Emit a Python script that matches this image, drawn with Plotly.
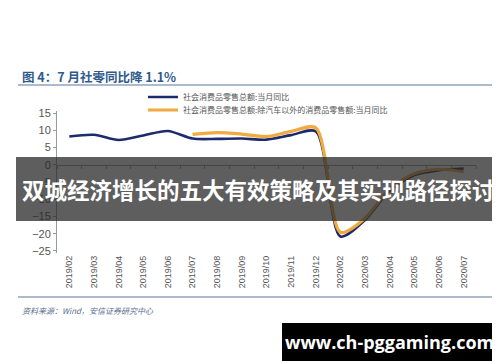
import plotly.graph_objects as go

months = ["2019/02", "2019/03", "2019/04", "2019/05", "2019/06", "2019/07", "2019/08",
          "2019/09", "2019/10", "2019/11", "2019/12", "2020/02", "2020/03", "2020/04",
          "2020/05", "2020/06", "2020/07"]
retail_total = [8.2, 8.7, 7.2, 8.5, 9.8, 7.6, 7.5, 7.6, 7.3, 8.6, 9.7,
                -20.8, -16.0, -7.5, -3.0, -1.6, -1.1]
retail_ex_auto = [None, None, None, None, None, 8.8, 9.3, 8.9, 8.2, 9.7, 10.7,
                  -19.6, -15.5, -7.0, -2.6, -1.3, -2.0]
name_total = "社会消费品零售总额:当月同比"
name_ex_auto = "社会消费品零售总额:除汽车以外的消费品零售额:当月同比"
y_ticks = [15, 10, 5, 0, -5, -10, -15, -20, -25]

title_text = "图 4：7 月社零同比降 1.1%"
source_text = "资料来源：Wind，安信证券研究中心"
banner_text = "双城经济增长的五大有效策略及其实现路径探讨"
watermark_text = "www.ch-pggaming.com"

W, H = 500, 362
ML, MR, MT, MB = 49, 32, 103, 117
y_range = [-25.6, 15.6]
zero_pos = (0 - y_range[0]) / (y_range[1] - y_range[0])


def pap_x(px):
    return (px - ML) / (W - ML - MR)


def pap_y(py):
    return (H - MB - py) / (H - MT - MB)


fig = go.Figure()
fig.add_trace(go.Scatter(x=months, y=retail_total, name=name_total, mode="lines", legend="legend",
                         line=dict(color="#1d2a6c", width=2.6, shape="spline", smoothing=0.8)))
fig.add_trace(go.Scatter(x=months, y=retail_ex_auto, name=name_ex_auto, mode="lines", legend="legend2",
                         line=dict(color="#f0aa40", width=3.2, shape="spline", smoothing=0.8)))
# invisible carrier for the axis drawn through zero
fig.add_trace(go.Scatter(x=months, y=retail_total, xaxis="x2", mode="lines",
                         line=dict(color="rgba(0,0,0,0)"), showlegend=False, hoverinfo="skip"))

grey = "#9a9a9a"
legend_common = dict(xanchor="left", yanchor="middle", bgcolor="rgba(0,0,0,0)",
                     font=dict(family="Noto Sans CJK SC", size=8, color="#555"),
                     itemwidth=30)
fig.update_layout(
    width=W, height=H,
    margin=dict(l=ML, r=MR, t=MT, b=MB, autoexpand=False),
    paper_bgcolor="white", plot_bgcolor="white",
    showlegend=True,
    legend=dict(x=pap_x(135), y=pap_y(89), **legend_common),
    legend2=dict(x=pap_x(135), y=pap_y(102), **legend_common),
    xaxis=dict(type="category", categoryorder="array", categoryarray=months,
               range=[-0.5, len(months) - 0.5],
               showline=False, showgrid=False, zeroline=False, ticks="",
               tickangle=-90, tickfont=dict(family="Liberation Sans", size=9, color="#555")),
    xaxis2=dict(type="category", categoryorder="array", categoryarray=months,
                range=[-0.5, len(months) - 0.5], overlaying="x", anchor="free",
                position=zero_pos, side="bottom",
                showline=True, linecolor=grey, linewidth=1, showgrid=False,
                ticks="outside", ticklen=3, tickcolor=grey, tickson="boundaries",
                showticklabels=False),
    yaxis=dict(range=y_range, tickvals=y_ticks, showgrid=False, zeroline=False,
               showline=True, linecolor=grey, linewidth=1,
               ticks="outside", ticklen=3, tickcolor=grey,
               tickfont=dict(family="Liberation Sans", size=11, color="#555")),
)

ann = [
    dict(x=pap_x(12), y=pap_y(68), xref="paper", yref="paper", text="<b>%s</b>" % title_text,
         showarrow=False, xanchor="left", yanchor="middle",
         font=dict(family="Noto Sans CJK SC", size=12.5, color="#2f5a8c")),
    dict(x=pap_x(12), y=pap_y(302), xref="paper", yref="paper", text="<i>%s</i>" % source_text,
         showarrow=False, xanchor="left", yanchor="middle",
         font=dict(family="Noto Sans CJK SC", size=8, color="#5a7090")),
    dict(x=pap_x(250), y=pap_y(181), xref="paper", yref="paper", text="<b>%s</b>" % banner_text,
         showarrow=False, xanchor="center", yanchor="middle",
         font=dict(family="Noto Sans CJK SC", size=22.5, color="white")),
    dict(x=pap_x(381), y=pap_y(334), xref="paper", yref="paper", text="<b>%s</b>" % watermark_text,
         showarrow=False, xanchor="center", yanchor="middle",
         font=dict(family="Open Sans", size=18, color="white")),
]
fig.update_layout(annotations=ann)

shapes = [
    dict(type="line", xref="paper", yref="paper", x0=pap_x(10), x1=pap_x(490), y0=pap_y(77), y1=pap_y(77),
         line=dict(color="#8fa5ba", width=1.5)),
    dict(type="line", xref="paper", yref="paper", x0=pap_x(10), x1=pap_x(490), y0=pap_y(289), y1=pap_y(289),
         line=dict(color="#8fa5ba", width=1.5)),
    dict(type="rect", xref="paper", yref="paper", x0=pap_x(8), x1=pap_x(492), y0=pap_y(213), y1=pap_y(149),
         fillcolor="rgba(40,40,40,0.75)", line=dict(width=0), layer="above"),
    dict(type="rect", xref="paper", yref="paper", x0=pap_x(274), x1=pap_x(491), y0=pap_y(353), y1=pap_y(315),
         fillcolor="black", line=dict(width=0), layer="above"),
]
fig.update_layout(shapes=shapes)

fig.write_html("out.html")
